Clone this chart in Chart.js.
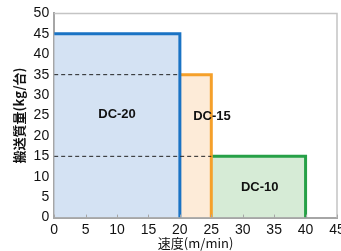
<!DOCTYPE html>
<html>
<head>
<meta charset="utf-8">
<script src="https://cdn.jsdelivr.net/npm/chart.js@4"></script>
<style>
  html, body { margin: 0; padding: 0; background: #fff; }
  #wrap { width: 341px; height: 251px; }
</style>
</head>
<body>
<div id="wrap"><canvas id="c"></canvas></div>
<script>
const modelNames = ['DC-20', 'DC-15', 'DC-10'];
const speedFrom = [0, 20, 25];
const speedTo = [20, 25, 40];
const maxLoad = [45, 35, 15];
const labelX = [10, 25.1, 32.7];
const labelY = [25.3, 24.8, 7.3];
const dashedLoads = [35, 15];
const dashedTo = [20, 25];
const xTicks = [0, 5, 10, 15, 20, 25, 30, 35, 40, 45];
const yTicks = [0, 5, 10, 15, 20, 25, 30, 35, 40, 45, 50];

const borderColors = ['#1a73c4', '#f5a02a', '#26a047'];
const fillColors = ['#d4e2f3', '#fdebd8', '#d6ebd6'];

const datasets = [];
modelNames.forEach((name, i) => {
  datasets.push({
    label: name,
    data: [
      { x: speedFrom[i], y: maxLoad[i] },
      { x: speedTo[i], y: maxLoad[i] },
      { x: speedTo[i], y: 0 },
    ],
    showLine: true,
    borderColor: borderColors[i],
    backgroundColor: fillColors[i],
    borderWidth: 3,
    pointRadius: 0,
    fill: 'origin',
    order: i + 1,
  });
});
dashedLoads.forEach((v, i) => {
  datasets.push({
    data: [{ x: 0, y: v }, { x: dashedTo[i], y: v }],
    showLine: true,
    borderColor: '#222',
    borderWidth: 1,
    borderDash: [4, 3],
    pointRadius: 0,
    fill: false,
    order: 0,
  });
});

const overlay = {
  id: 'overlay',
  beforeDatasetsDraw(chart) {
    const { ctx, chartArea: a } = chart;
    ctx.save();
    ctx.strokeStyle = '#c4c4c4';
    ctx.lineWidth = 1.5;
    ctx.beginPath();
    ctx.moveTo(a.left, a.top);
    ctx.lineTo(a.right, a.top);
    ctx.lineTo(a.right, a.bottom);
    ctx.stroke();
    ctx.restore();
  },
  afterDatasetsDraw(chart) {
    const { ctx, scales, chartArea: a } = chart;
    ctx.save();
    ctx.strokeStyle = '#a6a6a6';
    ctx.lineWidth = 1;
    ctx.beginPath();
    scales.x.ticks.forEach((t) => {
      const px = Math.round(scales.x.getPixelForValue(t.value)) + 0.5;
      ctx.moveTo(px, a.bottom);
      ctx.lineTo(px, a.bottom - 3);
    });
    ctx.stroke();
    ctx.fillStyle = '#111';
    ctx.font = 'bold 13px "Liberation Sans", Arial, sans-serif';
    ctx.textAlign = 'center';
    ctx.textBaseline = 'middle';
    modelNames.forEach((name, i) => {
      ctx.fillText(name, scales.x.getPixelForValue(labelX[i]), scales.y.getPixelForValue(labelY[i]));
    });
    ctx.restore();
  },
};

new Chart(document.getElementById('c'), {
  type: 'scatter',
  data: { datasets },
  options: {
    responsive: true,
    maintainAspectRatio: false,
    animation: false,
    layout: { padding: { top: 10, right: 4, left: 11, bottom: 0 } },
    plugins: { legend: { display: false }, tooltip: { enabled: false } },
    scales: {
      x: {
        type: 'linear',
        min: 0,
        max: 45,
        z: 1,
        afterBuildTicks(axis) { axis.ticks = xTicks.map((v) => ({ value: v })); },
        afterFit(axis) { axis.paddingRight = 0; },
        border: { color: '#a6a6a6', width: 2 },
        grid: { drawOnChartArea: false, drawTicks: false },
        ticks: { color: '#111', font: { size: 14, family: '"Liberation Sans", Arial, sans-serif' }, padding: 4, maxRotation: 0 },
        title: {
          display: true,
          text: '速度(m/min)',
          color: '#111',
          font: { size: 13, family: '"Noto Sans CJK JP", sans-serif' },
          padding: { top: -7, bottom: 0 },
        },
      },
      y: {
        min: 0,
        max: 50,
        z: 1,
        afterBuildTicks(axis) { axis.ticks = yTicks.map((v) => ({ value: v })); },
        border: { color: '#a6a6a6', width: 2 },
        grid: { drawOnChartArea: false, drawTicks: false },
        ticks: { color: '#111', font: { size: 14, family: '"Liberation Sans", Arial, sans-serif' }, padding: 5 },
        title: {
          display: true,
          text: '搬送質量(kg/台)',
          color: '#111',
          font: { size: 13, weight: 'bold', family: '"Noto Sans CJK JP", sans-serif' },
          padding: { top: 0, bottom: 2 },
        },
      },
    },
  },
  plugins: [overlay],
});
</script>
</body>
</html>
